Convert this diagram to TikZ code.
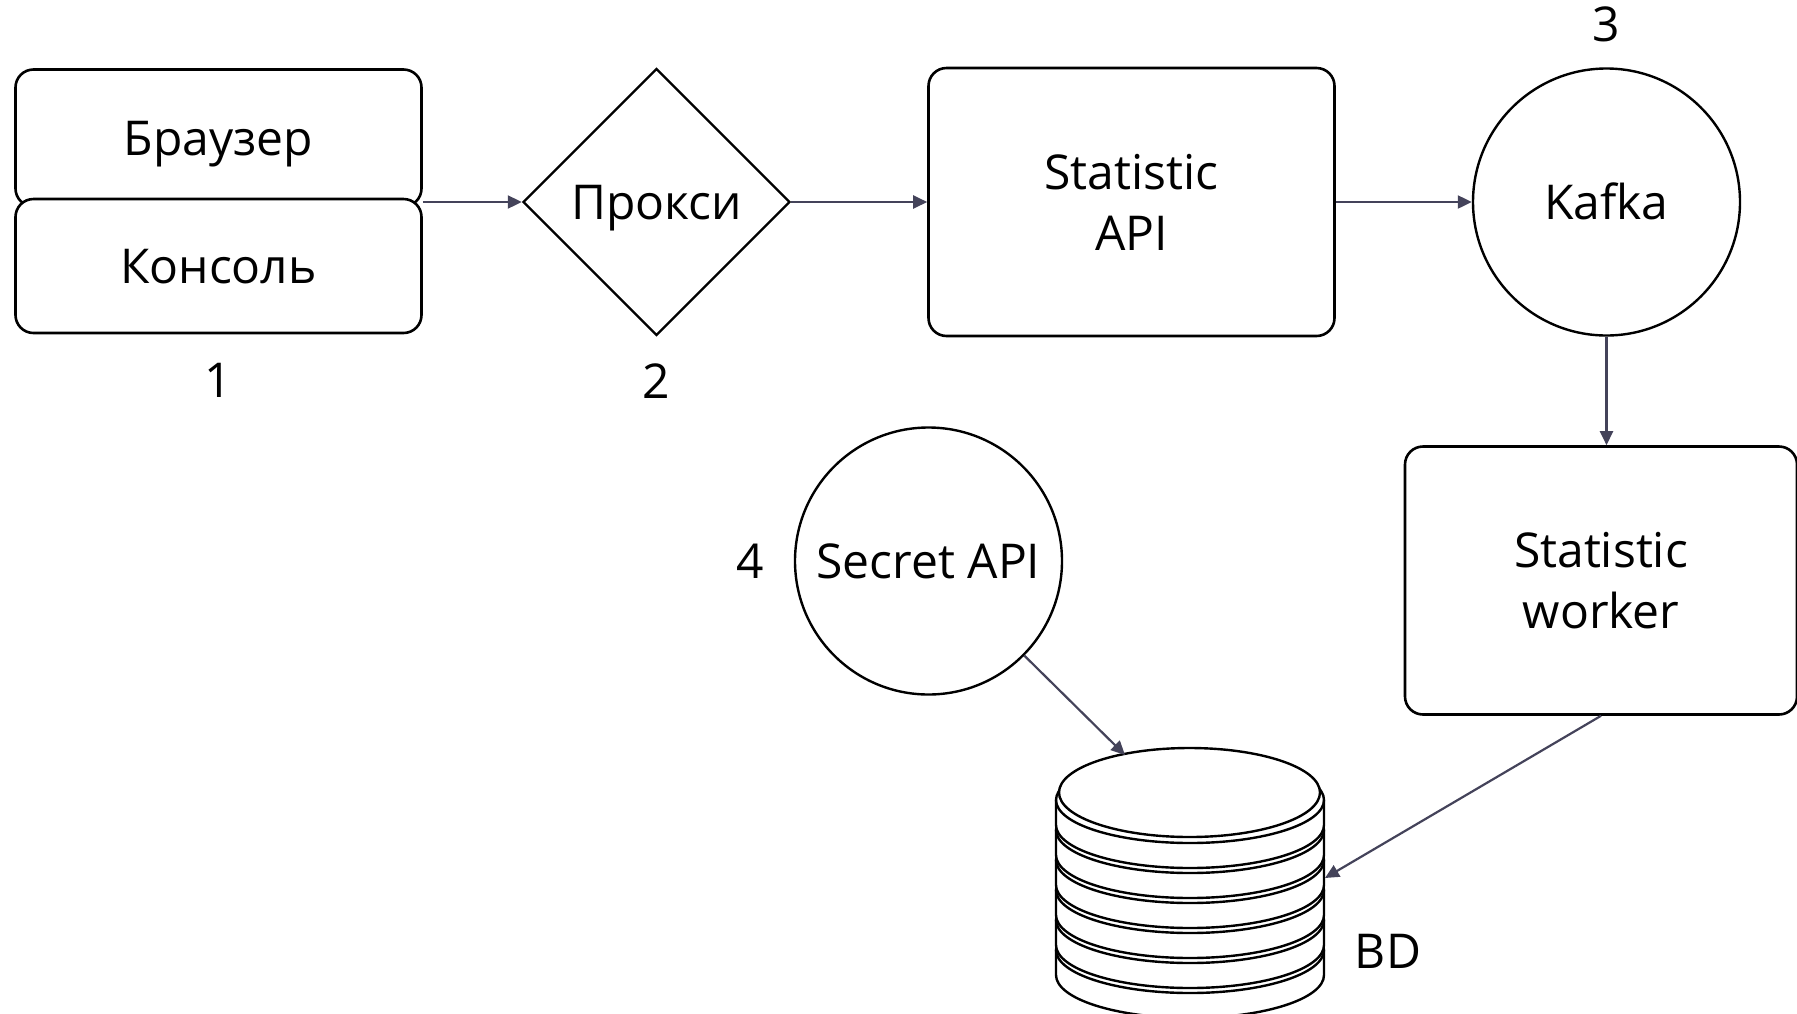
\documentclass[tikz,border=0pt]{standalone}
\usepackage{fontspec}
\setmainfont{Open Sans}
\usetikzlibrary{arrows.meta,shapes.geometric,positioning}
\definecolor{wire}{HTML}{44435A}

\begin{document}
\begin{tikzpicture}[x=1pt,y=1pt,>={Triangle[length=14pt,width=13pt]},node distance=475pt,
   font=\fontsize{48}{61}\selectfont,
   block/.style={draw,fill=white,line width=2.6pt,rounded corners=18pt,align=center,
                 minimum width=406pt,minimum height=268pt,inner sep=0pt},
   oneline/.style={text height=34pt,text depth=0pt},
   hub/.style={draw,fill=white,circle,line width=2.4pt,minimum size=267pt,inner sep=0pt,oneline},
   gate/.style={draw,fill=white,diamond,line width=2.4pt,minimum width=267pt,minimum height=267pt,inner sep=0pt,oneline},
   flow/.style={->,color=wire,line width=2.2pt},
   num/.style={inner sep=0pt},
   disk/.style={line width=2.4pt}]
   \useasboundingbox (0,0) rectangle (1797,-1013);

   \node[block,oneline,minimum height=137pt] (browser) at (218.5,-138) {Браузер};
   \node[block,oneline,minimum height=134pt] (console) at (218.5,-266) {Консоль};
   \node[gate]                       (proxy)   at (656.5,-202)   {Прокси};
   \node[block]                      (statapi) [right of=proxy]  {Statistic\\API};
   \node[hub]                        (kafka)   [right of=statapi] {Kafka};
   \node[block,minimum width=392pt]  (worker)  at (1601,-580.5)  {Statistic\\worker};
   \node[hub]                        (secret)  at (928.5,-561)   {Secret API};

   \node[num] (n1) [below=29pt of console] {1};
   \node[num] (n2) [below=27pt of proxy]   {2};
   \node[num] (n3) [above=25pt of kafka]   {3};
   \node[num] (n4) [left=30pt of secret]   {4};

   % database stack
   \coordinate (db) at (1190,-800);
   \foreach \k in {5,4,...,0} {
      \filldraw[disk,fill=white] ([yshift={-30pt*\k}]db) ++(-134,0) -- ++(0,-25)
         arc[start angle=180,end angle=360,x radius=134pt,y radius=43pt] -- ++(0,25)
         arc[start angle=0,end angle=180,x radius=134pt,y radius=43pt] -- cycle;
      \draw[disk] ([yshift={-30pt*\k}]db) ++(-134,0)
         arc[start angle=180,end angle=360,x radius=134pt,y radius=43pt];
   }
   \filldraw[disk,fill=white] (1189.5,-792.5) ellipse[x radius=130.5pt,y radius=44.5pt];
   \node (dblabel) at (1388,-951) {BD};

   \coordinate (dbtop)  at (1125,-755);
   \coordinate (dbside) at (1325,-878);

   \path[flow] (browser.east |- proxy.west) edge (proxy)
               (proxy)   edge (statapi)
               (statapi) edge (kafka)
               (kafka.south) edge (kafka.south |- worker.north)
               (secret)  edge (dbtop)
               (worker.south) edge (dbside);
\end{tikzpicture}
\end{document}
